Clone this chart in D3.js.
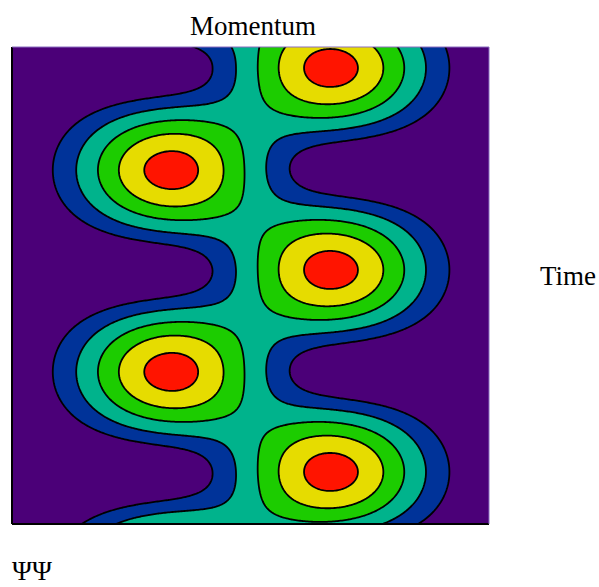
<!DOCTYPE html>
<html>
<head>
<meta charset="utf-8">
<script src="https://cdn.jsdelivr.net/npm/d3@7"></script>
<style>
  body { margin: 0; background: #fff; }
  svg { display: block; }
  text { font-family: "Liberation Serif", "Times New Roman", serif; font-size: 27px; fill: #000; }
</style>
</head>
<body>
<div id="chart"></div>
<script>
// peaks of the distribution (momentum, time), incl. the two just outside the view
const peakTimes   = [-1.68, 0.44, 2.58, 4.675, 6.81, 8.91, 11.06];
const peakMomenta = [-1.33, 1.35, -1.33, 1.35, -1.33, 1.35, -1.33];
const peakHalfSpacing = 2.12;   // time between neighbouring peaks
const momentumWidth = 1.107;    // gaussian sigma in momentum

const momentumDomain = [-4, 4];
const timeDomain = [0, 10];

// contour levels and band colours (lowest band first)
const levels = [0.2, 0.355, 0.54, 0.73, 0.92];
const bandColors = ["#4b0078", "#003399", "#00b38c", "#1ccc00", "#e6dc00", "#ff1400"];

const W = 599, H = 587;
const margin = {top: 47, right: 110, bottom: 63, left: 12};
const width = W - margin.left - margin.right;   // 477
const height = H - margin.top - margin.bottom;  // 477

const svg = d3.select("#chart").append("svg")
    .attr("width", W)
    .attr("height", H);

const x = d3.scaleLinear().domain(momentumDomain).range([0, width]);
const y = d3.scaleLinear().domain(timeDomain).range([0, height]);

function density(p, t){
    let v = 0;
    for (let k = 0; k < peakTimes.length; k++) {
        const dt = t - peakTimes[k];
        if (Math.abs(dt) >= peakHalfSpacing) continue;
        const c = Math.cos(Math.PI * dt / (2 * peakHalfSpacing));
        const dp = (p - peakMomenta[k]) / momentumWidth;
        v += c * c * Math.exp(-0.5 * dp * dp);
    }
    return v;
}

// sample grid slightly larger than the plot so the edges get clipped away
const step = 1.5, pad = 6;
const nx = Math.ceil((width + 2 * pad) / step) + 1;
const ny = Math.ceil((height + 2 * pad) / step) + 1;
const values = new Array(nx * ny);
for (let j = 0; j < ny; j++) {
    for (let i = 0; i < nx; i++) {
        const px = -pad + i * step, py = -pad + j * step;
        values[i + j * nx] = density(x.invert(px), y.invert(py));
    }
}

const contours = d3.contours().size([nx, ny]).thresholds(levels)(values);
const path = d3.geoPath(d3.geoIdentity()
    .scale(step)
    .translate([-pad - 0.5 * step, -pad - 0.5 * step]));

svg.append("clipPath").attr("id", "plot-clip")
  .append("rect").attr("width", width).attr("height", height);

const g = svg.append("g")
    .attr("transform", `translate(${margin.left},${margin.top})`);

const plot = g.append("g").attr("clip-path", "url(#plot-clip)");

plot.append("rect")
    .attr("width", width)
    .attr("height", height)
    .attr("fill", bandColors[0]);

plot.selectAll("path.band")
  .data(contours)
  .join("path")
    .attr("class", "band")
    .attr("d", path)
    .attr("fill", (d, i) => bandColors[i + 1])
    .attr("stroke", "#000")
    .attr("stroke-width", 1.8)
    .attr("stroke-linejoin", "round");

// frame: dark left and bottom axis lines
g.append("line").attr("x1", 0).attr("x2", 0).attr("y1", 0).attr("y2", height)
    .attr("stroke", "#000").attr("stroke-width", 2);
g.append("line").attr("x1", 0).attr("x2", width).attr("y1", height).attr("y2", height)
    .attr("stroke", "#000").attr("stroke-width", 2);
g.append("line").attr("x1", width).attr("x2", width).attr("y1", 0).attr("y2", height)
    .attr("stroke", "#8a6cc0").attr("stroke-width", 1);
g.append("line").attr("x1", 0).attr("x2", width).attr("y1", 0).attr("y2", 0)
    .attr("stroke", "#8a6cc0").attr("stroke-width", 1);

// labels
svg.append("text")
    .attr("x", 253).attr("y", 35)
    .attr("text-anchor", "middle")
    .text("Momentum");

svg.append("text")
    .attr("x", 540).attr("y", 285)
    .text("Time");

svg.append("text")
    .attr("x", 12).attr("y", 580)
    .text("ΨΨ");
</script>
</body>
</html>
